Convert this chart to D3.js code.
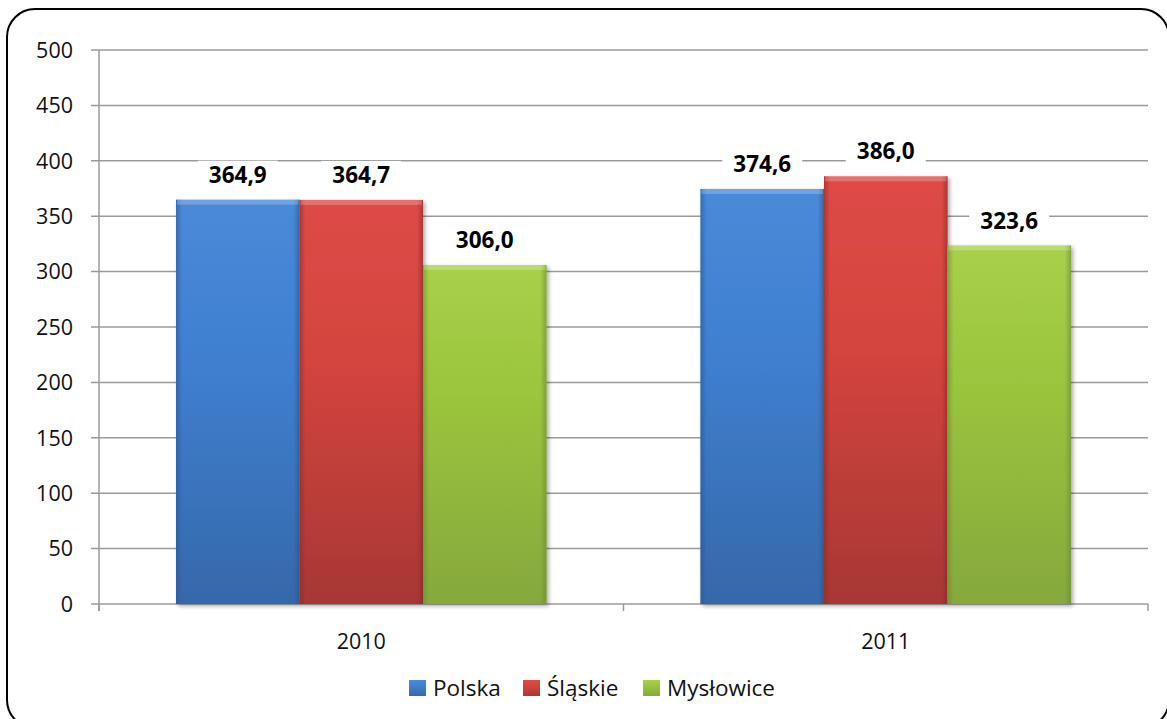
<!DOCTYPE html>
<html><head><meta charset="utf-8">
<script src="https://cdn.jsdelivr.net/npm/d3@7"></script>
<style>body{margin:0;background:#fff}svg{display:block}</style>
</head><body>
<script>
const categories = ["2010", "2011"];
const seriesNames = ["Polska", "Śląskie", "Mysłowice"];
const polska = [364.9, 374.6];
const slaskie = [364.7, 386.0];
const myslowice = [306.0, 323.6];
const yTicks = [0, 50, 100, 150, 200, 250, 300, 350, 400, 450, 500];
const seriesValues = [polska, slaskie, myslowice];
const colors = [
  {top:"#4a8ad8", mid:"#3f7fd0", bot:"#3668aa", edge:"#2b5590"},
  {top:"#de4b47", mid:"#d4443f", bot:"#a73734", edge:"#8a2a27"},
  {top:"#a8d04a", mid:"#9bc43e", bot:"#86a83d", edge:"#6a8a2e"}
];

(function(){
const W = 1167, H = 719;
const svg = d3.select("body").append("svg").attr("width", W).attr("height", H)
  .style("font-family", "'Open Sans', 'DejaVu Sans', sans-serif");

const defs = svg.append("defs");
colors.forEach((c, i) => {
  const g = defs.append("linearGradient").attr("id", "g" + i).attr("x1", 0).attr("y1", 0).attr("x2", 0).attr("y2", 1);
  g.append("stop").attr("offset", "0%").attr("stop-color", c.top);
  g.append("stop").attr("offset", "40%").attr("stop-color", c.mid);
  g.append("stop").attr("offset", "100%").attr("stop-color", c.bot);
  const h = defs.append("linearGradient").attr("id", "h" + i).attr("x1", 0).attr("y1", 0).attr("x2", 1).attr("y2", 0);
  h.append("stop").attr("offset", "0%").attr("stop-color", c.edge).attr("stop-opacity", 0.6);
  h.append("stop").attr("offset", "5%").attr("stop-color", c.edge).attr("stop-opacity", 0);
  h.append("stop").attr("offset", "95%").attr("stop-color", c.edge).attr("stop-opacity", 0);
  h.append("stop").attr("offset", "100%").attr("stop-color", c.edge).attr("stop-opacity", 0.6);
});
const sh = defs.append("filter").attr("id", "shadow").attr("x", "-10%").attr("y", "-10%").attr("width", "130%").attr("height", "130%");
sh.append("feGaussianBlur").attr("in", "SourceAlpha").attr("stdDeviation", 2);
sh.append("feOffset").attr("dx", 2).attr("dy", 2).attr("result", "b");
sh.append("feComponentTransfer").append("feFuncA").attr("type", "linear").attr("slope", 0.35);
const m = sh.append("feMerge"); m.append("feMergeNode"); m.append("feMergeNode").attr("in", "SourceGraphic");

// outer border
svg.append("rect").attr("x", 7).attr("y", 9).attr("width", 1162).attr("height", 719)
  .attr("rx", 28).attr("ry", 28).attr("fill", "#fff").attr("stroke", "#000").attr("stroke-width", 2);

const pLeft = 99, pRight = 1148, pTop = 50, pBottom = 604;
const y = d3.scaleLinear().domain([0, 500]).range([pBottom, pTop]);
const x0 = d3.scaleBand().domain(categories).range([pLeft, pRight]).paddingInner(0).paddingOuter(0);
const x1 = d3.scaleBand().domain(d3.range(seriesNames.length)).range([77, x0.bandwidth() - 77]);

// gridlines
svg.append("g").selectAll("line").data(yTicks).join("line")
  .attr("x1", pLeft - 8).attr("x2", pRight).attr("y1", d => y(d)).attr("y2", d => y(d))
  .attr("stroke", "#9a9a9a").attr("stroke-width", 1.5);

// y axis line
svg.append("line").attr("x1", pLeft).attr("x2", pLeft).attr("y1", pTop).attr("y2", pBottom + 7)
  .attr("stroke", "#9a9a9a").attr("stroke-width", 1.5);
// x tick marks
const xTickPos = [pLeft, pLeft + x0.bandwidth(), pRight];
svg.append("g").selectAll("line").data(xTickPos).join("line")
  .attr("x1", d => d).attr("x2", d => d).attr("y1", pBottom).attr("y2", pBottom + 7)
  .attr("stroke", "#9a9a9a").attr("stroke-width", 1.5);

// y labels
svg.append("g").selectAll("text").data(yTicks).join("text")
  .attr("x", 73).attr("y", d => y(d)).attr("dy", "0.36em").attr("text-anchor", "end")
  .attr("font-size", 21.5).attr("fill", "#111").text(d => d);

// x labels
svg.append("g").selectAll("text").data(categories).join("text")
  .attr("x", d => x0(d) + x0.bandwidth() / 2).attr("y", 641).attr("dy", "0.36em")
  .attr("text-anchor", "middle").attr("font-size", 21.5).attr("fill", "#111").text(d => d);

// bars
const flat = [];
categories.forEach((c, ci) => seriesValues.forEach((s, si) => flat.push({c, ci, si, v: s[ci]})));
const bars = svg.append("g").selectAll("g").data(flat).join("g").attr("filter", "url(#shadow)");
bars.append("rect")
  .attr("x", d => x0(d.c) + x1(d.si)).attr("width", x1.bandwidth())
  .attr("y", d => y(d.v)).attr("height", d => pBottom - y(d.v))
  .attr("fill", d => `url(#g${d.si})`);
bars.append("rect")
  .attr("x", d => x0(d.c) + x1(d.si)).attr("width", x1.bandwidth())
  .attr("y", d => y(d.v)).attr("height", d => pBottom - y(d.v))
  .attr("fill", d => `url(#h${d.si})`);
bars.append("rect")
  .attr("x", d => x0(d.c) + x1(d.si) + 1).attr("width", x1.bandwidth() - 2)
  .attr("y", d => y(d.v)).attr("height", 5)
  .attr("fill", "#fff").attr("opacity", 0.22);

// value labels
const fmt = v => v.toFixed(1).replace(".", ",");
const lbl = svg.append("g").selectAll("g").data(flat).join("g")
  .attr("transform", d => `translate(${x0(d.c) + x1(d.si) + x1.bandwidth() / 2},${y(d.v) - 25})`);
lbl.append("rect").attr("x", -40).attr("y", -14).attr("width", 80).attr("height", 28).attr("fill", "#fff");
lbl.append("text").attr("text-anchor", "middle").attr("dy", "0.36em")
  .attr("font-size", 22.5).attr("font-weight", "bold").attr("fill", "#000").text(d => fmt(d.v));

// legend
const legendX = [409, 523, 643];
const leg = svg.append("g").selectAll("g").data(seriesNames).join("g")
  .attr("transform", (d, i) => `translate(${legendX[i]},688)`);
leg.append("rect").attr("x", 0).attr("y", -8).attr("width", 17).attr("height", 16)
  .attr("fill", (d, i) => `url(#g${i})`);
leg.append("text").attr("x", 24).attr("dy", "0.36em").attr("font-size", 22.5).attr("fill", "#111").text(d => d);
})();
</script>
</body></html>
